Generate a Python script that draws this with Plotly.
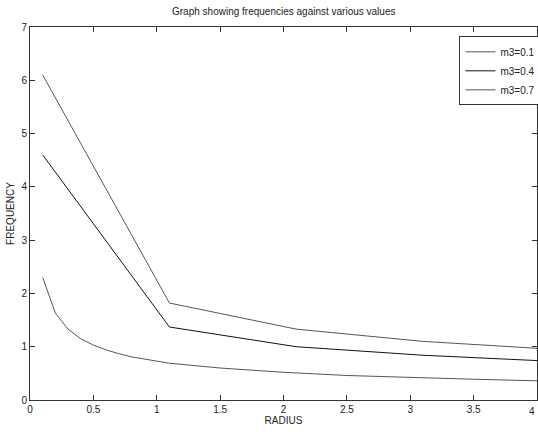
import plotly.graph_objects as go

# Data
radius_low = [0.1, 0.2, 0.3, 0.4, 0.5, 0.6, 0.7, 0.8, 0.9, 1.0, 1.1, 1.5, 2.0, 2.5, 3.0, 3.5, 4.0]
freq_low = [2.30, 1.63, 1.33, 1.15, 1.03, 0.94, 0.87, 0.81, 0.77, 0.73, 0.69, 0.60, 0.52, 0.46, 0.42, 0.39, 0.36]

radius_mid = [0.1, 1.1, 2.1, 3.1, 4.0]
freq_mid = [4.60, 1.37, 1.00, 0.84, 0.74]

radius_top = [0.1, 1.1, 2.1, 3.1, 4.0]
freq_top = [6.10, 1.82, 1.33, 1.10, 0.97]

series_names = ["m3=0.1", "m3=0.4", "m3=0.7"]
series_colors = ["#555555", "#111111", "#555555"]

fig = go.Figure()
for name, xs, ys, col in zip(series_names,
                             [radius_top, radius_mid, radius_low],
                             [freq_top, freq_mid, freq_low],
                             series_colors):
    fig.add_trace(go.Scatter(x=xs, y=ys, mode="lines", name=name,
                             line=dict(color=col, width=1)))

font = dict(family="Liberation Sans Narrow, Arial Narrow, Liberation Sans, sans-serif", size=10, color="#222222")

axis_common = dict(showline=True, linecolor="#333333", linewidth=1, mirror="ticks",
                   ticks="inside", ticklen=5, tickcolor="#333333", showgrid=False,
                   zeroline=False, tickfont=font, automargin=False)

fig.update_layout(
    width=538, height=432,
    margin=dict(l=30, r=1, t=27, b=32, autoexpand=False),
    paper_bgcolor="white", plot_bgcolor="white",
    font=font,
    showlegend=True,
    legend=dict(x=0.847, y=0.975, xanchor="left", yanchor="top",
                bgcolor="white", bordercolor="#333333", borderwidth=1,
                font=dict(family=font["family"], size=10, color="#222222"),
                tracegroupgap=0, itemwidth=30),
    xaxis=dict(range=[0, 4], tickvals=[0, 0.5, 1, 1.5, 2, 2.5, 3, 3.5, 4],
               ticktext=["0", "0.5", "1", "1.5", "2", "2.5", "3", "3.5", "4"],
               title=dict(text="RADIUS", font=font, standoff=2), **axis_common),
    yaxis=dict(range=[0, 7], tickvals=[0, 1, 2, 3, 4, 5, 6, 7],
               title=dict(text="FREQUENCY", font=font, standoff=4), **axis_common),
    annotations=[
        dict(text="Graph showing frequencies against various values",
             xref="paper", yref="paper", x=0.5, y=1.0, yshift=8,
             xanchor="center", yanchor="bottom", showarrow=False,
             font=dict(family=font["family"], size=10, color="#222222")),
        dict(text="4", xref="x", yref="paper", x=4, y=0, yshift=-4,
             xanchor="right", yanchor="top", showarrow=False,
             font=dict(family=font["family"], size=10, color="#222222")),
    ],
)

fig.write_html("out.html")
